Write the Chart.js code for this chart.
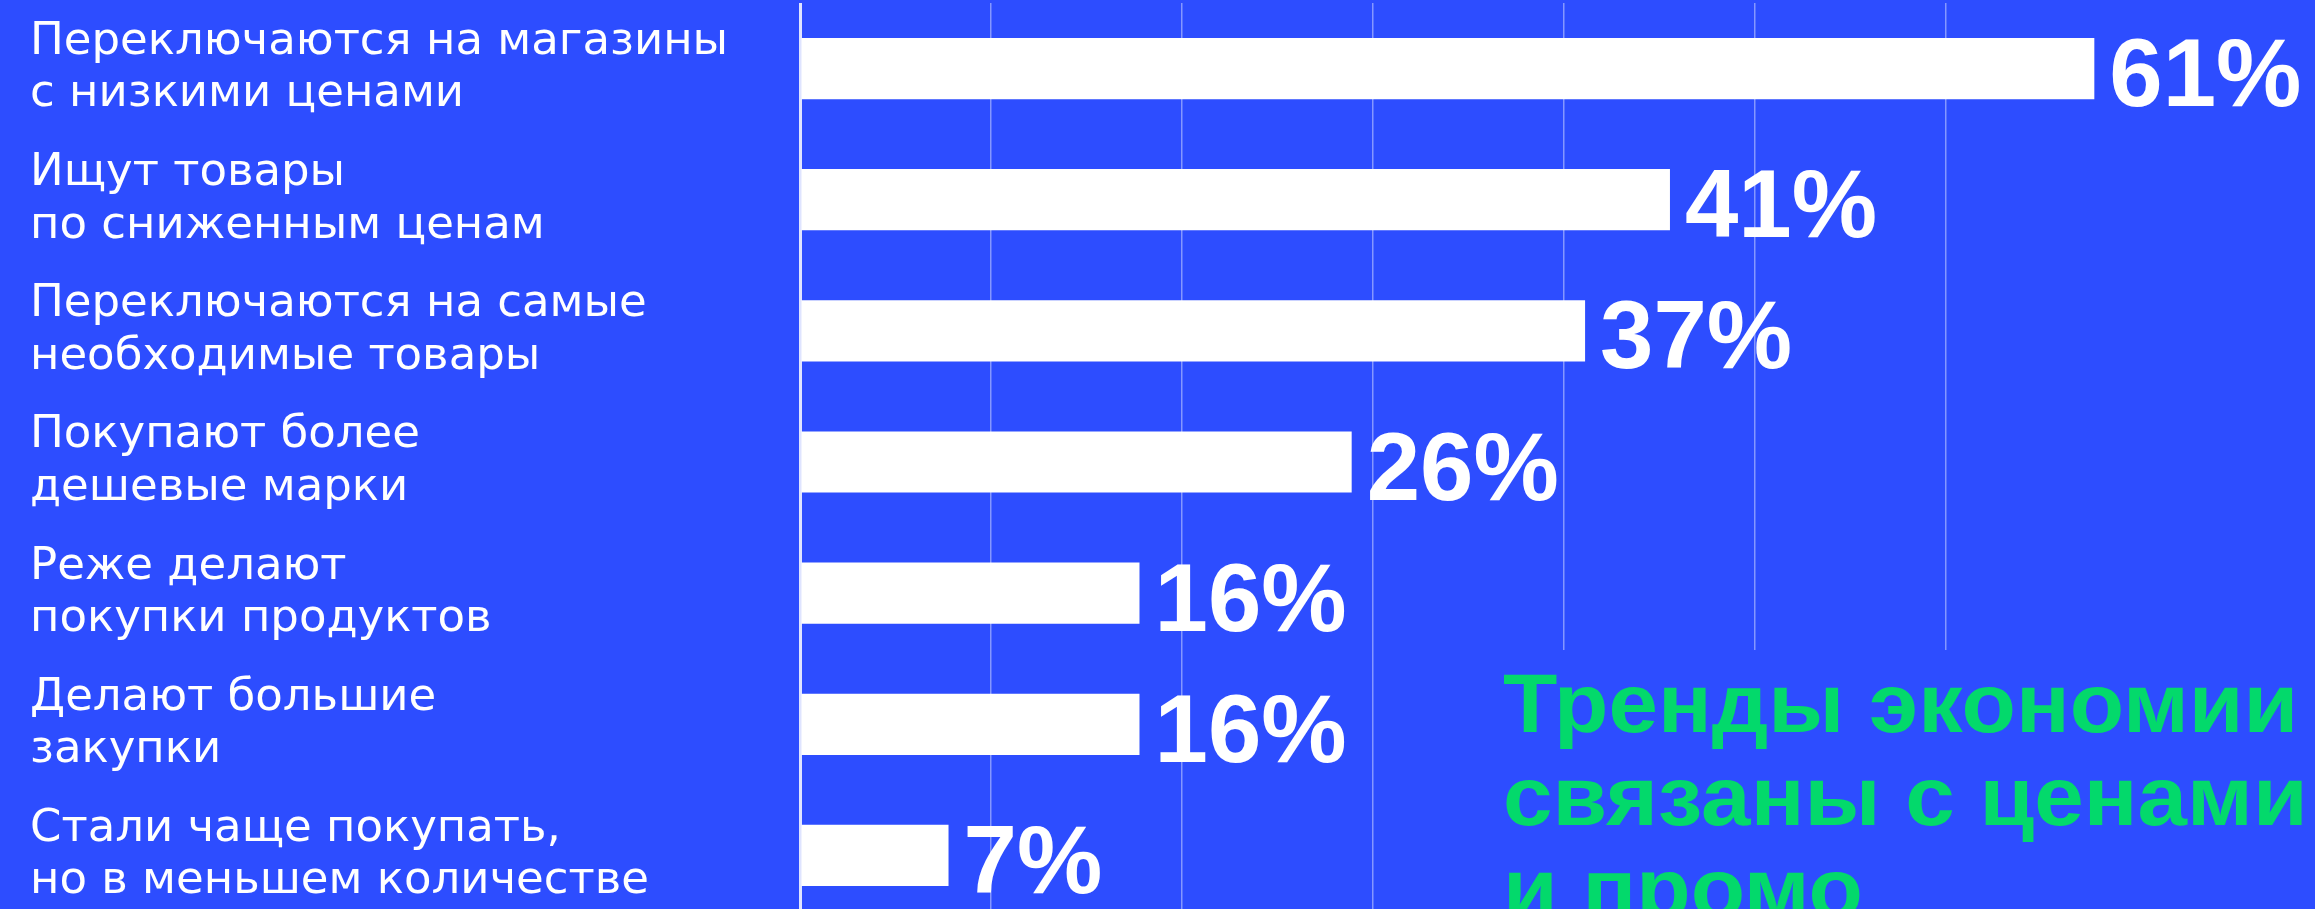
<!DOCTYPE html>
<html><head><meta charset="utf-8">
<script src="https://cdn.jsdelivr.net/npm/chart.js@4"></script>
<style>
html,body{margin:0;padding:0;background:#2D4DFF;overflow:hidden;width:2315px;height:909px;}
#wrap{position:relative;width:2315px;height:924px;}
#title{position:absolute;left:1480px;top:650px;width:835px;height:274px;background:#2D4DFF;padding:7px 0 0 23px;box-sizing:border-box;white-space:nowrap;overflow:hidden;}
#title span{display:inline-block;color:#03D96B;font-family:"Liberation Sans",Arial,sans-serif;font-weight:bold;font-size:84px;line-height:92.6px;transform:scaleX(1.06);transform-origin:0 0;}
</style></head><body>
<div id="wrap"><canvas id="c" width="2315" height="924"></canvas>
<div id="title"><span>Тренды экономии<br>связаны с ценами<br>и промо</span></div></div>
<script>
const categories = [
  ["Переключаются на магазины", "с низкими ценами"],
  ["Ищут товары", "по сниженным ценам"],
  ["Переключаются на самые", "необходимые товары"],
  ["Покупают более", "дешевые марки"],
  ["Реже делают", "покупки продуктов"],
  ["Делают большие", "закупки"],
  ["Стали чаще покупать,", "но в меньшем количестве"]
];
const values = [61, 41, 37, 26, 16, 16, 7];
const gridStep = 9;
const gridLast = 54;
const axisMax = 71.4;

const valueLabels = {
  id: 'valueLabels',
  afterDatasetsDraw(chart) {
    const ctx = chart.ctx;
    const meta = chart.getDatasetMeta(0);
    ctx.save();
    ctx.fillStyle = '#FFFFFF';
    ctx.font = 'bold 96px "Liberation Sans", Arial, sans-serif';
    ctx.textAlign = 'left';
    ctx.textBaseline = 'alphabetic';
    meta.data.forEach((bar, i) => {
      ctx.fillText(values[i] + '%', bar.x + 15, bar.y + 37.5);
    });
    ctx.restore();
  }
};

new Chart(document.getElementById('c'), {
  type: 'bar',
  data: {
    labels: categories,
    datasets: [{
      data: values,
      backgroundColor: '#FFFFFF',
      borderWidth: 0,
      barPercentage: 0.467,
      categoryPercentage: 1
    }]
  },
  options: {
    indexAxis: 'y',
    responsive: false,
    animation: false,
    devicePixelRatio: 1,
    layout: { padding: { left: 30, top: 3, bottom: 3, right: 0 } },
    plugins: { legend: { display: false }, tooltip: { enabled: false } },
    scales: {
      x: {
        type: 'linear',
        min: 0,
        max: axisMax,
        ticks: { display: false, stepSize: gridStep },
        border: { display: false },
        grid: {
          drawTicks: false,
          color: c => {
            const v = c.tick ? c.tick.value : null;
            if (v === 0) return 'rgba(255,255,255,0.85)';
            return (v !== null && v <= gridLast) ? 'rgba(255,255,255,0.42)' : 'rgba(0,0,0,0)';
          },
          lineWidth: c => (c.tick && c.tick.value === 0) ? 3 : 1.5
        },
        afterFit: s => { s.height = 0; s.paddingLeft = 0; s.paddingRight = 0; }
      },
      y: {
        grid: { display: false },
        border: { display: false },
        ticks: {
          color: '#FFFFFF',
          crossAlign: 'far',
          padding: 0,
          font: { family: '"DejaVu Sans"', size: 45, lineHeight: 1.164 }
        },
        afterFit: s => { s.width = 770; s.paddingTop = 0; s.paddingBottom = 0; }
      }
    }
  },
  plugins: [valueLabels]
});
</script>
</body></html>
